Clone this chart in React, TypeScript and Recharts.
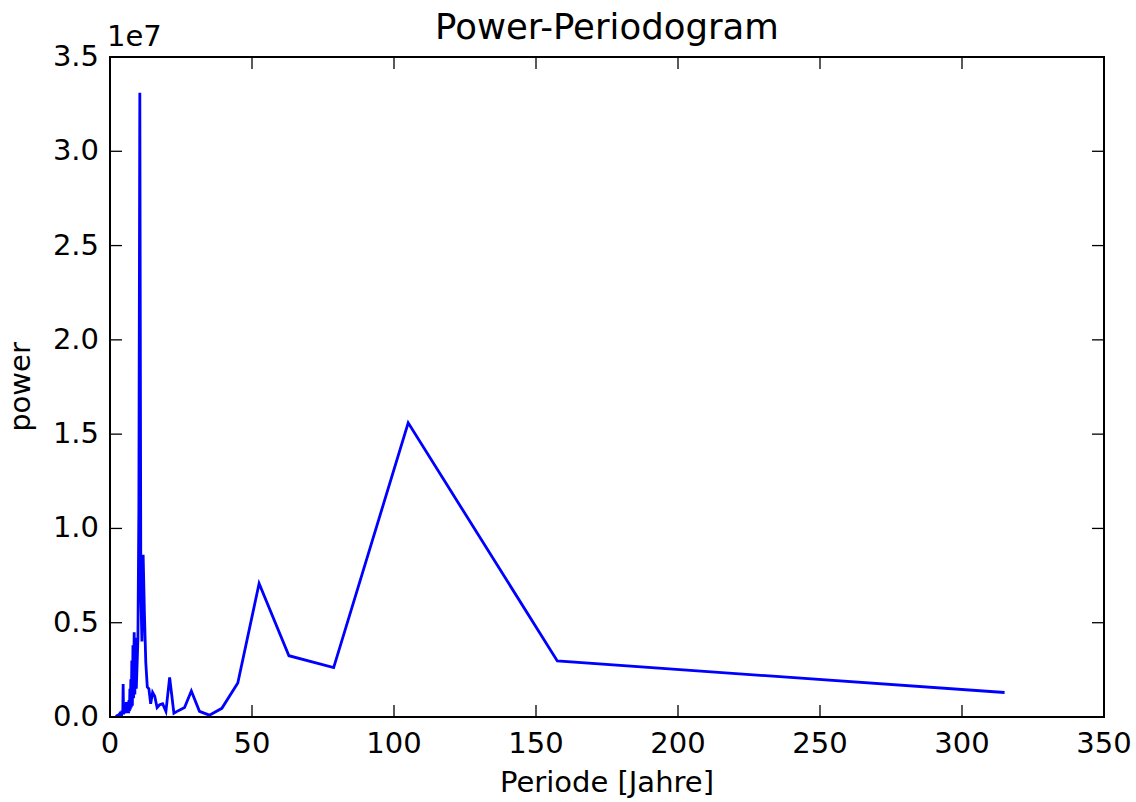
import React from "react";
import { LineChart, Line, XAxis, YAxis } from "recharts";

// Periods (years) of the periodogram frequencies
const periods: number[] = [
  315.0, 157.5, 105.0, 78.75, 63.0, 52.5, 45.0, 39.38, 35.0, 31.5,
  28.64, 26.25, 24.23, 22.5, 21.0, 19.69, 18.53, 17.5, 16.58, 15.75,
  15.0, 14.32, 13.7, 13.13, 12.6, 12.12, 11.67, 11.25, 10.86, 10.5,
  10.16, 9.84, 9.55, 9.26, 9.0, 8.75, 8.51, 8.29, 8.08, 7.88,
  7.68, 7.5, 7.33, 7.16, 7.0, 6.85, 6.7, 6.56, 6.43, 6.3,
  6.18, 6.06, 5.94, 5.83, 5.73, 5.63, 5.53, 5.43, 5.34, 5.25,
  5.08, 4.92, 4.77, 4.63, 4.5, 4.32, 4.14, 3.94, 3.71, 3.5,
  3.32, 3.15, 2.86, 2.63, 2.42, 2.25, 2.1, 2.01,
];

// Power values in units of 1e7
const powerE7: number[] = [
  0.13, 0.297, 1.56, 0.262, 0.325, 0.708, 0.18, 0.046, 0.01, 0.03,
  0.138, 0.05, 0.035, 0.02, 0.21, 0.03, 0.07, 0.065, 0.05, 0.11,
  0.13, 0.07, 0.15, 0.16, 0.29, 0.55, 0.86, 0.4, 0.65, 3.31,
  1.1, 0.42, 0.28, 0.15, 0.42, 0.12, 0.45, 0.1, 0.38, 0.06,
  0.3, 0.05, 0.2, 0.04, 0.15, 0.03, 0.09, 0.02, 0.08, 0.04,
  0.06, 0.02, 0.05, 0.03, 0.08, 0.02, 0.05, 0.03, 0.03, 0.04,
  0.02, 0.03, 0.015, 0.175, 0.02, 0.03, 0.015, 0.02, 0.01, 0.015,
  0.008, 0.012, 0.006, 0.008, 0.004, 0.005, 0.003, 0.004,
];

const xTicks: number[] = [0, 50, 100, 150, 200, 250, 300, 350];
const yTicks: number[] = [0, 5e6, 1e7, 1.5e7, 2e7, 2.5e7, 3e7, 3.5e7];

const data = periods.map((p, i) => ({ period: p, power: powerE7[i] * 1e7 }));

const W = 1136;
const H = 802;
const M = { top: 57, right: 32, bottom: 0, left: 0 };
const YAXIS_W = 110;
const XAXIS_H = 85;
const PLOT_LEFT = M.left + YAXIS_W;
const PLOT_RIGHT = W - M.right;
const PLOT_TOP = M.top;
const PLOT_BOTTOM = H - M.bottom - XAXIS_H;
const TICK_LEN = 12;
const FONT = "'DejaVu Sans', sans-serif";
const TICK_FS = 29;

const XTick = (props: any) => {
  const { x, payload } = props;
  return (
    <g>
      <line x1={x} x2={x} y1={PLOT_BOTTOM} y2={PLOT_BOTTOM - TICK_LEN} stroke="#000" strokeWidth={1.3} />
      <line x1={x} x2={x} y1={PLOT_TOP} y2={PLOT_TOP + TICK_LEN} stroke="#000" strokeWidth={1.3} />
      <text x={x} y={PLOT_BOTTOM + 36} textAnchor="middle" fontFamily={FONT} fontSize={TICK_FS} fill="#000">
        {String(payload.value)}
      </text>
    </g>
  );
};

const YTick = (props: any) => {
  const { y, payload } = props;
  return (
    <g>
      <line x1={PLOT_LEFT} x2={PLOT_LEFT + TICK_LEN} y1={y} y2={y} stroke="#000" strokeWidth={1.3} />
      <line x1={PLOT_RIGHT} x2={PLOT_RIGHT - TICK_LEN} y1={y} y2={y} stroke="#000" strokeWidth={1.3} />
      <text x={PLOT_LEFT - 11} y={y + 9} textAnchor="end" fontFamily={FONT} fontSize={TICK_FS} fill="#000">
        {(payload.value / 1e7).toFixed(1)}
      </text>
    </g>
  );
};

export default function App() {
  return (
    <div style={{ position: "absolute", left: 0, top: 0, width: W, height: H, background: "#fff" }}>
      <LineChart width={W} height={H} data={data} margin={M}>
        <XAxis
          xAxisId="x"
          dataKey="period"
          type="number"
          domain={[0, 350]}
          ticks={xTicks}
          interval={0}
          allowDataOverflow
          height={XAXIS_H}
          tickLine={false}
          axisLine={false}
          tick={<XTick />}
        />
        <YAxis
          yAxisId="y"
          type="number"
          domain={[0, 3.5e7]}
          ticks={yTicks}
          interval={0}
          allowDataOverflow
          width={YAXIS_W}
          tickLine={false}
          axisLine={false}
          tick={<YTick />}
        />
        <Line
          xAxisId="x"
          yAxisId="y"
          type="linear"
          dataKey="power"
          stroke="#0000ff"
          strokeWidth={2.8}
          strokeLinejoin="miter"
          dot={false}
          isAnimationActive={false}
        />
      </LineChart>
      <svg
        width={W}
        height={H}
        style={{ position: "absolute", left: 0, top: 0, pointerEvents: "none" }}
      >
        <rect
          x={PLOT_LEFT}
          y={PLOT_TOP}
          width={PLOT_RIGHT - PLOT_LEFT}
          height={PLOT_BOTTOM - PLOT_TOP}
          fill="none"
          stroke="#000"
          strokeWidth={2}
        />
        <text x={(PLOT_LEFT + PLOT_RIGHT) / 2} y={39} textAnchor="middle" fontFamily={FONT} fontSize={35.5} fill="#000">
          Power-Periodogram
        </text>
        <text x={(PLOT_LEFT + PLOT_RIGHT) / 2} y={792} textAnchor="middle" fontFamily={FONT} fontSize={TICK_FS} fill="#000">
          Periode [Jahre]
        </text>
        <text
          transform={`translate(30, ${(PLOT_TOP + PLOT_BOTTOM) / 2}) rotate(-90)`}
          textAnchor="middle"
          fontFamily={FONT}
          fontSize={TICK_FS}
          fill="#000"
        >
          power
        </text>
        <text x={107} y={46} fontFamily={FONT} fontSize={TICK_FS} fill="#000">
          1e7
        </text>
      </svg>
    </div>
  );
}
